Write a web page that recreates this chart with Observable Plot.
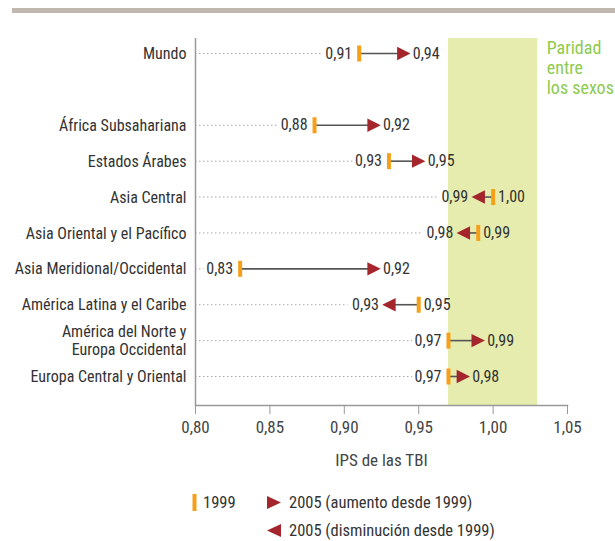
<!DOCTYPE html>
<html>
<head>
<meta charset="utf-8">
<script src="https://cdn.jsdelivr.net/npm/d3@7"></script>
<script src="https://cdn.jsdelivr.net/npm/@observablehq/plot@0.6"></script>
<style>
  html, body { margin: 0; padding: 0; background: #fff; }
  body { width: 615px; height: 541px; position: relative; overflow: hidden;
         font-family: "Liberation Sans Narrow", "Roboto Condensed", "DejaVu Sans Condensed", Roboto, sans-serif; color: #333; }
  #topbar { position: absolute; left: 12px; top: 8px; width: 603px; height: 5px; background: #c0b7ae; }
  #chart { position: absolute; left: 0; top: 0; }
  #legend { position: absolute; left: 0; top: 475px; width: 615px; height: 66px; font-size: 16.5px; }
  .li { position: absolute; display: flex; align-items: center; white-space: nowrap; }
</style>
</head>
<body>
<div id="topbar"></div>
<div id="chart"></div>
<div id="legend">
  <div class="li" style="left:192px; top:18px;"><svg width="5" height="17"><rect x="0.5" y="0" width="4" height="17" fill="#f6a01a"/></svg><span style="margin-left:6px">1999</span></div>
  <div class="li" style="left:266px; top:18px;"><svg width="16" height="17"><path d="M1,2L15,8.5L1,15Z" fill="#a4262c"/></svg><span style="margin-left:7px">2005 (aumento desde 1999)</span></div>
  <div class="li" style="left:266px; top:46px;"><svg width="16" height="17"><path d="M15,2L1,8.5L15,15Z" fill="#a4262c"/></svg><span style="margin-left:7px">2005 (disminución desde 1999)</span></div>
</div>
<script>
// ---- data ----
const regions = [
  "Mundo",
  "África Subsahariana",
  "Estados Árabes",
  "Asia Central",
  "Asia Oriental y el Pacífico",
  "Asia Meridional/Occidental",
  "América Latina y el Caribe",
  "América del Norte y\nEuropa Occidental",
  "Europa Central y Oriental"
];
// row slot of each region (slot 1 is left blank after "Mundo")
const rowSlot = [0, 2, 3, 4, 5, 6, 7, 8, 9];
const ips1999 = [0.91, 0.88, 0.93, 1.00, 0.99, 0.83, 0.95, 0.97, 0.97];
const ips2005 = [0.94, 0.92, 0.95, 0.99, 0.98, 0.92, 0.93, 0.99, 0.98];
const xTicks = [0.80, 0.85, 0.90, 0.95, 1.00, 1.05];
const parityBand = [{x1: 0.97, x2: 1.03}];
const parityLabel = "Paridad\nentre\nlos sexos";
const xLabel = "IPS de las TBI";

const data = regions.map((r, i) => ({
  region: r, row: rowSlot[i], a: ips1999[i], b: ips2005[i],
  lo: Math.min(ips1999[i], ips2005[i]), hi: Math.max(ips1999[i], ips2005[i]),
  up: ips2005[i] >= ips1999[i]
}));
const fmt = v => d3.format(".2f")(v).replace(".", ",");
const rowLabel = s => { const i = rowSlot.indexOf(s); return i < 0 ? "" : regions[i]; };

const ORANGE = "#f6a01a", RED = "#a4262c", BAND = "#e6ecae", GREEN = "#8fca4e";

const triRight = {draw(ctx) { ctx.moveTo(-6.7, -6.7); ctx.lineTo(6.7, 0); ctx.lineTo(-6.7, 6.7); ctx.closePath(); }};
const triLeft  = {draw(ctx) { ctx.moveTo(6.7, -6.7); ctx.lineTo(-6.7, 0); ctx.lineTo(6.7, 6.7); ctx.closePath(); }};
const bar      = {draw(ctx) { ctx.rect(-2, -8, 4, 16); }};

const font = '"Liberation Sans Narrow", "Roboto Condensed", "DejaVu Sans Condensed", Roboto, sans-serif';
const up = data.filter(d => d.up), down = data.filter(d => !d.up);

const chart = Plot.plot({
  width: 615,
  height: 475,
  marginTop: 38,
  marginBottom: 70,
  marginLeft: 195,
  marginRight: 48,
  style: {fontFamily: font, fontSize: "16px", color: "#333", background: "transparent"},
  x: {domain: [0.80, 1.05]},
  y: {type: "linear", domain: [0, 9], range: [53, 376]},
  marks: [
    Plot.rect(parityBand, {x1: "x1", x2: "x2", fill: BAND}),
    Plot.text([parityLabel], {x: parityBand[0].x2, frameAnchor: "top", text: d => d, textAnchor: "start",
      lineAnchor: "top", dx: 9, dy: 1, fill: GREEN, fontSize: 18, lineHeight: 1.12}),
    // dotted leader lines
    Plot.ruleY(up, {y: "row", x1: xTicks[0], x2: "lo", insetRight: 36, stroke: "#a8a8a8", strokeDasharray: "1.5,2.5", strokeWidth: 1}),
    Plot.ruleY(down, {y: "row", x1: xTicks[0], x2: "lo", insetRight: 41, stroke: "#a8a8a8", strokeDasharray: "1.5,2.5", strokeWidth: 1}),
    // connecting lines
    Plot.ruleY(data, {y: "row", x1: "a", x2: "b", stroke: "#555", strokeWidth: 1.6}),
    // markers
    Plot.dot(data, {x: "a", y: "row", symbol: bar, fill: ORANGE, stroke: null, r: 5}),
    Plot.dot(up, {x: "b", y: "row", symbol: triRight, fill: RED, stroke: null, r: 5}),
    Plot.dot(down, {x: "b", y: "row", symbol: triLeft, fill: RED, stroke: null, r: 5}),
    // value labels
    Plot.text(up, {x: "a", y: "row", text: d => fmt(d.a), textAnchor: "end", dx: -7, fontSize: 16, fill: "#333"}),
    Plot.text(up, {x: "b", y: "row", text: d => fmt(d.b), textAnchor: "start", dx: 9, fontSize: 16, fill: "#333"}),
    Plot.text(down, {x: "b", y: "row", text: d => fmt(d.b), textAnchor: "end", dx: -10, fontSize: 16, fill: "#333"}),
    Plot.text(down, {x: "a", y: "row", text: d => fmt(d.a), textAnchor: "start", dx: 5, fontSize: 16, fill: "#333"}),
    // axes
    Plot.ruleX([xTicks[0]], {stroke: "#999", strokeWidth: 1.5}),
    Plot.frame({anchor: "bottom", stroke: "#999", strokeWidth: 1.5}),
    Plot.axisY({ticks: rowSlot, tickFormat: rowLabel, tickSize: 0, tickPadding: 9, fontSize: 16, label: null, fill: "#333", lineHeight: 1.1}),
    Plot.axisX({ticks: xTicks, tickFormat: fmt, tickSize: 9, tickPadding: 6, fontSize: 17, stroke: "#999",
      fill: "#444", label: xLabel, labelAnchor: "center", labelArrow: "none", labelOffset: 60})
  ]
});
document.getElementById("chart").appendChild(chart);
</script>
</body>
</html>
